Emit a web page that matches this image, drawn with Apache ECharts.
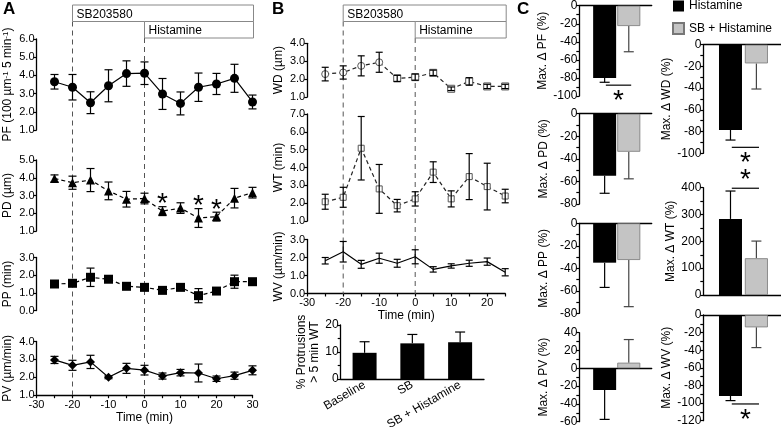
<!DOCTYPE html>
<html>
<head>
<meta charset="utf-8">
<script src="https://cdn.jsdelivr.net/npm/echarts@6/dist/echarts.min.js"></script>
<style>
html, body { margin: 0; padding: 0; background: #fff; }
#chart { width: 781px; height: 427px; }
</style>
</head>
<body>
<div id="chart"></div>
<script>
// panel A : protrusion parameters over time (min)
const timeA = [-25, -20, -15, -10, -5, 0, 5, 10, 15, 20, 25, 30]
const pfMean = [3.65, 3.35, 2.5, 3.43, 4.1, 4.12, 2.98, 2.46, 3.35, 3.53, 3.84, 2.54]
const pfErr = [0.4, 0.7, 0.6, 0.88, 0.7, 0.62, 0.85, 0.63, 0.78, 0.58, 0.77, 0.38]
const pdMean = [3.96, 3.72, 3.87, 3.26, 2.79, 2.83, 2.12, 2.29, 1.73, 1.81, 2.85, 3.16]
const pdErr = [0.2, 0.37, 0.65, 0.5, 0.44, 0.3, 0.25, 0.3, 0.53, 0.25, 0.55, 0.3]
const ppMean = [1.5, 1.54, 1.88, 1.77, 1.37, 1.31, 1.14, 1.31, 0.84, 1.1, 1.63, 1.63]
const ppErr = [0.08, 0.1, 0.52, 0.12, 0.15, 0.1, 0.1, 0.1, 0.4, 0.1, 0.37, 0.08]
const pvMean = [2.97, 2.67, 2.86, 2.0, 2.5, 2.4, 2.07, 2.26, 2.24, 1.92, 2.09, 2.39]
const pvErr = [0.2, 0.28, 0.37, 0.08, 0.28, 0.27, 0.17, 0.18, 0.5, 0.15, 0.2, 0.25]
const pdSignif = [5, 15, 20]

// panel B : wave parameters over time (min)
const timeB = [-25, -20, -15, -10, -5, 0, 5, 10, 15, 20, 25]
const wdMean = [2.28, 2.37, 2.74, 2.94, 2.04, 2.11, 2.35, 1.46, 1.87, 1.59, 1.59]
const wdErr = [0.38, 0.37, 0.56, 0.56, 0.17, 0.17, 0.15, 0.1, 0.21, 0.12, 0.12]
const wtMean = [2.08, 2.33, 5.08, 2.8, 1.86, 2.24, 3.74, 2.24, 3.49, 2.93, 2.4]
const wtErr = [0.42, 0.56, 1.78, 1.37, 0.35, 0.4, 0.58, 0.45, 1.29, 1.31, 0.38]
const wvMean = [1.82, 2.32, 1.62, 1.96, 1.68, 2.04, 1.34, 1.53, 1.68, 1.77, 1.18]
const wvErr = [0.18, 0.57, 0.22, 0.28, 0.22, 0.39, 0.15, 0.12, 0.17, 0.2, 0.2]
const protCats = ['Baseline', 'SB', 'SB + Histamine']
const protMean = [9.7, 13.2, 13.6]
const protErr = [4.1, 3.3, 3.8]

// treatment bars
const treatLabels = ['SB203580', 'Histamine']
const treatStart = [-20, 0]

// panel C : max change (%), [Histamine, SB + Histamine]
const groups = ['Histamine', 'SB + Histamine']
const cPF = [-80, -22.5], cPFErr = [4.8, 28.5]
const cPD = [-55, -33.7], cPDErr = [15.5, 24]
const cPP = [-35, -32.6], cPPErr = [22, 41.5]
const cPV = [-24.4, 6.3], cPVErr = [33, 26]
const cWD = [-78.5, -17.2], cWDErr = [9.3, 23.6]
const cWT = [283.6, 137], cWTErr = [104, 64]
const cWV = [-91.9, -14], cWVErr = [5.3, 23]
// significance bar level per panel
const sigPF = -88, sigWD = -94.5, sigWT = 398, sigWV = -101

const font = 'Liberation Sans, Arial, sans-serif'
const chart = echarts.init(document.getElementById('chart'))
const grid = [], xAxis = [], yAxis = [], series = []

function valAxis(o) {
  return {
    type: 'value', min: o.min, max: o.max, interval: o.interval,
    show: o.show !== false,
    name: o.name, nameLocation: 'middle', nameGap: o.nameGap, nameRotate: o.rotate,
    nameTextStyle: {
      fontSize: 12, color: '#000', lineHeight: 13, fontFamily: font,
      rich: { sup: { fontSize: 8, verticalAlign: 'top', lineHeight: 13 } }
    },
    axisLine: { show: true, onZero: !!o.onZero, lineStyle: { color: '#000', width: 1.3 } },
    axisTick: { show: o.ticks !== false, length: 3, lineStyle: { color: '#000', width: 1.2 } },
    axisLabel: { show: o.labels !== false, color: '#000', fontSize: o.fontSize || 11, margin: o.margin || 2, formatter: o.fmt },
    splitLine: { show: false }
  }
}
function addGrid(g, x, y) {
  grid.push(Object.assign({ outerBoundsMode: 'none', containLabel: false }, g))
  const i = grid.length - 1
  xAxis.push(Object.assign(x, { gridIndex: i }))
  yAxis.push(Object.assign(y, { gridIndex: i }))
  return i
}
const dec1 = v => v.toFixed(1)
const every = n => v => (Math.round(v) % n === 0 ? String(Math.round(v)) : '')

function errBar(cap, color) {
  return (params, api) => {
    const x = api.value(0), m = api.value(1), e = api.value(2)
    const lo = api.coord([x, m - e]), hi = api.coord([x, m + e])
    const style = { stroke: color, lineWidth: 1.2 }
    return { type: 'group', children: [
      { type: 'line', shape: { x1: lo[0], y1: lo[1], x2: hi[0], y2: hi[1] }, style },
      { type: 'line', shape: { x1: hi[0] - cap, y1: hi[1], x2: hi[0] + cap, y2: hi[1] }, style },
      { type: 'line', shape: { x1: lo[0] - cap, y1: lo[1], x2: lo[0] + cap, y2: lo[1] }, style }
    ] }
  }
}
// one-sided whisker away from zero
function halfErr(cap, color) {
  return (params, api) => {
    const x = api.value(0), m = api.value(1), e = api.value(2)
    const s = m < 0 ? -1 : 1
    const a = api.coord([x, m]), b = api.coord([x, m + s * e])
    const style = { stroke: color, lineWidth: 1.2 }
    return { type: 'group', children: [
      { type: 'line', shape: { x1: a[0], y1: a[1], x2: b[0], y2: b[1] }, style },
      { type: 'line', shape: { x1: b[0] - cap, y1: b[1], x2: b[0] + cap, y2: b[1] }, style }
    ] }
  }
}
function star(x, y, size) {
  return { type: 'text', x: x, y: y,
    style: { text: '*', fill: '#000', fontSize: size, fontFamily: font,
      align: 'center', verticalAlign: 'middle', textAlign: 'center', textVerticalAlign: 'middle' } }
}

function timeSeries(gi, t, mean, err, opt) {
  series.push({
    type: 'line', xAxisIndex: gi, yAxisIndex: gi,
    data: t.map((v, i) => [v, mean[i]]),
    symbol: opt.symbol, symbolSize: opt.size,
    lineStyle: { color: opt.line || '#000', width: 1.2, type: opt.dashed ? [4, 3] : 'solid' },
    itemStyle: opt.item || { color: '#000' }, z: 3
  })
  series.push({
    type: 'custom', xAxisIndex: gi, yAxisIndex: gi,
    data: t.map((v, i) => [v, mean[i], err[i]]),
    renderItem: errBar(opt.cap || 4, '#000'), z: 4
  })
}

// treatment boxes and dashed onset lines, drawn over a whole column
function treatOverlay(left, width, top, height, min, max) {
  const gi = addGrid({ left, width, top, height },
    { type: 'value', min, max, show: false },
    { type: 'value', min: 0, max: 1, show: false })
  series.push({
    type: 'custom', xAxisIndex: gi, yAxisIndex: gi,
    data: treatStart.map((s, i) => [s, 0.5, i]),
    renderItem: (params, api) => {
      const cs = params.coordSys
      const row = api.value(2)
      const x0 = api.coord([api.value(0), 0])[0]
      const h = 16.5
      const y0 = cs.y + row * h
      return { type: 'group', children: [
        { type: 'line', shape: { x1: x0, y1: y0 + h, x2: x0, y2: cs.y + cs.height },
          style: { stroke: '#555', lineWidth: 1, lineDash: [5, 4] } },
        { type: 'rect', shape: { x: x0, y: y0, width: cs.x + cs.width + 1 - x0, height: h },
          style: { fill: '#fff', stroke: '#888', lineWidth: 1 } },
        { type: 'text', x: x0 + 4, y: y0 + h / 2 + 1,
          style: { text: treatLabels[params.dataIndex], fill: '#000', fontSize: 12, fontFamily: font,
            align: 'left', verticalAlign: 'middle', textAlign: 'left', textVerticalAlign: 'middle' } }
      ] }
    }
  })
}

// ---------- A ----------
const aL = 36.5, aW = 216
treatOverlay(aL, aW, 5, 390, -30, 30)
const aX = (show) => valAxis({ min: -30, max: 30, interval: 5, show, fmt: every(10), fontSize: 11, margin: 4,
  name: show ? 'Time (min)' : '', nameGap: 16 })
let g = addGrid({ left: aL, width: aW, top: 39, height: 91 }, aX(false),
  valAxis({ min: 1, max: 6, interval: 1, fmt: dec1, name: 'PF (100 µm{sup|-1} 5 min{sup|-1})', nameGap: 22, rotate: 90 }))
timeSeries(g, timeA, pfMean, pfErr, { symbol: 'circle', size: 9 })
g = addGrid({ left: aL, width: aW, top: 160, height: 71 }, aX(false),
  valAxis({ min: 1, max: 5, interval: 1, fmt: dec1, name: 'PD (µm)', nameGap: 22, rotate: 90 }))
timeSeries(g, timeA, pdMean, pdErr, { symbol: 'triangle', size: 9, dashed: true })
series.push({
  type: 'custom', xAxisIndex: g, yAxisIndex: g,
  data: pdSignif.map(t => { const i = timeA.indexOf(t); return [t, pdMean[i] + pdErr[i]] }),
  renderItem: (params, api) => {
    const p = api.coord([api.value(0), api.value(1)])
    return star(p[0], p[1] - 2, 28)
  }
})
g = addGrid({ left: aL, width: aW, top: 257.5, height: 53 }, aX(false),
  valAxis({ min: 0, max: 3, interval: 1, fmt: dec1, name: 'PP (min)', nameGap: 22, rotate: 90 }))
timeSeries(g, timeA, ppMean, ppErr, { symbol: 'rect', size: 9, dashed: true })
g = addGrid({ left: aL, width: aW, top: 341.5, height: 53.7 }, aX(true),
  valAxis({ min: 1, max: 4, interval: 1, fmt: dec1, name: 'PV (µm/min)', nameGap: 22, rotate: 90 }))
timeSeries(g, timeA, pvMean, pvErr, { symbol: 'diamond', size: 9 })

// ---------- B ----------
const bL = 307.2, bW = 198
treatOverlay(bL, bW, 5, 289, -30, 25)
const bX = (show) => valAxis({ min: -30, max: 25, interval: 5, show, fmt: every(10), margin: 4,
  name: show ? 'Time (min)' : '', nameGap: 16 })
const openItem = { color: '#fff', borderColor: '#555', borderWidth: 1 }
g = addGrid({ left: bL, width: bW, top: 43.3, height: 53.7 }, bX(false),
  valAxis({ min: 1, max: 4, interval: 1, fmt: dec1, name: 'WD (µm)', nameGap: 22, rotate: 90 }))
timeSeries(g, timeB, wdMean, wdErr, { symbol: (v, p) => (p.dataIndex < 4 ? 'circle' : 'rect'), size: 7,
  dashed: true, line: '#222', item: openItem, cap: 3.5 })
g = addGrid({ left: bL, width: bW, top: 114, height: 107 }, bX(false),
  valAxis({ min: 1, max: 7, interval: 1, fmt: dec1, name: 'WT (min)', nameGap: 22, rotate: 90 }))
timeSeries(g, timeB, wtMean, wtErr, { symbol: 'rect', size: 6, dashed: true, line: '#222', item: openItem, cap: 3.5 })
g = addGrid({ left: bL, width: bW, top: 239.5, height: 54 }, bX(true),
  valAxis({ min: 0, max: 3, interval: 1, fmt: dec1, name: 'WV (µm/min)', nameGap: 22, rotate: 90 }))
timeSeries(g, timeB, wvMean, wvErr, { symbol: 'none', size: 4, cap: 3.5 })

g = addGrid({ left: 340.7, width: 143.3, top: 325, height: 54 },
  { type: 'category', data: protCats, axisTick: { show: false },
    axisLine: { lineStyle: { color: '#000', width: 1.3 } },
    axisLabel: { rotate: 30, color: '#000', fontSize: 12, margin: 5, interval: 0 } },
  valAxis({ min: 0, max: 20, interval: 5, fmt: every(10), fontSize: 12,
    name: '% Protrusions\n> 5 min WT', nameGap: 18, rotate: 90 }))
series.push({ type: 'bar', xAxisIndex: g, yAxisIndex: g, data: protMean, barWidth: 24,
  itemStyle: { color: '#000' } })
series.push({ type: 'custom', xAxisIndex: g, yAxisIndex: g,
  data: protMean.map((m, i) => [i, m, protErr[i]]), renderItem: halfErr(5, '#000') })

// ---------- C ----------
function cPanel(col, top, height, min, max, step, name, vals, errs, sig, sigDir) {
  const left = col === 0 ? 579.3 : 703.3
  const width = col === 0 ? 72.4 : 77.7
  const gi = addGrid({ left, width, top, height },
    { type: 'value', min: -0.05, max: 2.95, axisLine: { onZero: true, lineStyle: { color: '#000', width: 1.3 } },
      axisTick: { show: false }, axisLabel: { show: false }, splitLine: { show: false } },
    valAxis({ min, max, interval: step, fmt: every(step * 2), fontSize: 12, name, nameGap: col === 0 ? 29 : 22, rotate: 90 }))
  groups.forEach((name, i) => {
    series.push({ type: 'bar', name, xAxisIndex: gi, yAxisIndex: gi, data: [[i + 1, vals[i]]],
      barWidth: 23, barGap: '-100%',
      itemStyle: i === 0 ? { color: '#000' } : { color: '#c4c4c4', borderColor: '#777', borderWidth: 0.8 } })
  })
  series.push({ type: 'custom', xAxisIndex: gi, yAxisIndex: gi, z: 1,
    data: vals.map((v, i) => [i + 1, v, errs[i]]),
    renderItem: (params, api) => halfErr(5, params.dataIndex === 0 ? '#000' : '#444')(params, api) })
  if (sig !== undefined) {
    series.push({ type: 'custom', xAxisIndex: gi, yAxisIndex: gi,
      data: [[1.05, 2.1, sig]], encode: { x: [0, 1], y: 2 },
      renderItem: (params, api) => {
        const a = api.coord([api.value(0), api.value(2)])
        const b = api.coord([api.value(1), api.value(2)])
        return { type: 'group', children: [
          { type: 'line', shape: { x1: a[0], y1: a[1], x2: b[0], y2: b[1] }, style: { stroke: '#000', lineWidth: 1.2 } },
          star((a[0] + b[0]) / 2, a[1] + sigDir * 12 + 4, 28)
        ] }
      } })
  }
}
cPanel(0, 5.7, 90.3, -100, 0, 10, 'Max. Δ PF (%)', cPF, cPFErr, sigPF, 1)
cPanel(0, 113.7, 90.3, -80, 0, 10, 'Max. Δ PD (%)', cPD, cPDErr)
cPanel(0, 223.3, 90, -80, 0, 10, 'Max. Δ PP (%)', cPP, cPPErr)
cPanel(0, 332.7, 89, -60, 40, 10, 'Max. Δ PV (%)', cPV, cPVErr)
cPanel(1, 44.7, 108.6, -100, 0, 10, 'Max. Δ WD (%)', cWD, cWDErr, sigWD, 1)
cPanel(1, 187.7, 107.3, 0, 400, 50, 'Max. Δ WT (%)', cWT, cWTErr, sigWT, -1)
cPanel(1, 315, 105.7, -120, 0, 10, 'Max. Δ WV (%)', cWV, cWVErr, sigWV, 1)

chart.setOption({
  animation: false,
  textStyle: { fontFamily: font },
  title: [['A', 3], ['B', 272], ['C', 517]].map(([text, left]) => ({
    text, left, top: 1, padding: 0,
    textStyle: { fontSize: 17, fontWeight: 'bold', color: '#000', fontFamily: font }
  })),
  legend: {
    data: groups, orient: 'vertical', left: 672, top: 0, padding: 0,
    itemWidth: 11, itemHeight: 11, itemGap: 10, icon: 'rect',
    textStyle: { fontSize: 12, color: '#000', fontFamily: font }
  },
  grid, xAxis, yAxis, series
})
</script>
</body>
</html>
